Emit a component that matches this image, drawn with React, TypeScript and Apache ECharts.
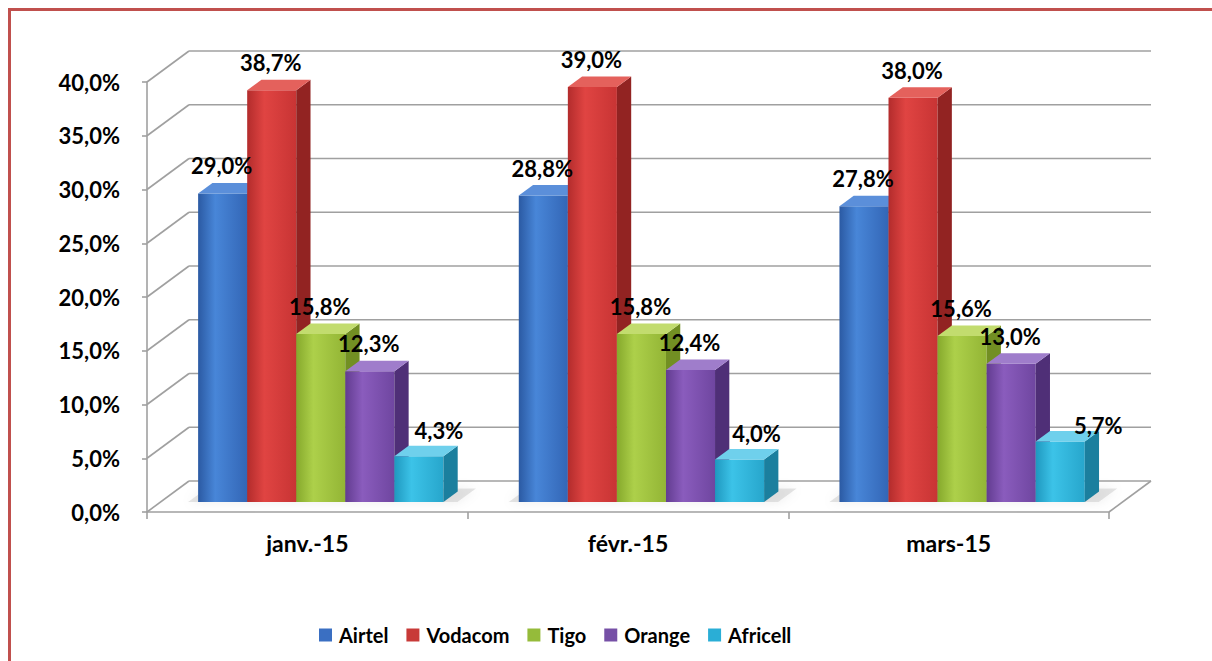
import React, { useEffect, useRef } from 'react';
import * as echarts from 'echarts';

// ---- data ----
const categories = ['janv.-15', 'févr.-15', 'mars-15'];
const seriesNames = ['Airtel', 'Vodacom', 'Tigo', 'Orange', 'Africell'];
const airtel = [29.0, 28.8, 27.8];
const vodacom = [38.7, 39.0, 38.0];
const tigo = [15.8, 15.8, 15.6];
const orange = [12.3, 12.4, 13.0];
const africell = [4.3, 4.0, 5.7];
const seriesValues = [airtel, vodacom, tigo, orange, africell];
const yTicks = [0, 5, 10, 15, 20, 25, 30, 35, 40];

// label nudges for the Africell series (manually placed in the original)
const africellLabelNudgeX = [21, 18, 39];
const africellLabelNudgeY = [2, 2, 12];

// ---- styles ----
const palette = [
  { front: ['#2b5aa3', '#4886d8', '#3366b6'], side: '#24508f', top: '#5b8fda', legend: '#3a6fc2' },
  { front: ['#b32c2c', '#e04442', '#c83434'], side: '#922322', top: '#e4615c', legend: '#c83a38' },
  { front: ['#86a92c', '#add04a', '#93b535'], side: '#728f23', top: '#c2dc6e', legend: '#95bb3a' },
  { front: ['#623c90', '#8a5cbd', '#6f46a0'], side: '#4f2f77', top: '#9f7dcb', legend: '#7650a6' },
  { front: ['#1f98bf', '#3cc3e8', '#27a6cc'], side: '#1b7f9e', top: '#6fd0ec', legend: '#2aaed6' },
];

const FONT = 'Lato, "Open Sans", sans-serif';
const GRID_COLOR = '#a0a0a0';
const FRAME_COLOR = '#c0504d';
const DX = 42; // wall depth (px)
const DY = -31;
const F0 = 0.32; // bar front depth fraction
const F1 = 0.66; // bar back depth fraction
const BAR_FRAC = 0.153; // bar width as fraction of category width
const K = 0.99;

function barSeries(s: number) {
  const pal = palette[s];
  return {
    name: seriesNames[s],
    type: 'custom',
    itemStyle: { color: pal.legend },
    data: categories.map((_, c) => [c, seriesValues[s][c]]),
    renderItem: (params: any, api: any) => {
      const c = api.value(0);
      const v = api.value(1);
      const base = api.coord([c, 0]);
      const top = api.coord([c, v]);
      const catW = api.size([1, 0])[0];
      const bw = catW * BAR_FRAC;
      const x0 = base[0] - 2.5 * bw + s * bw + F0 * DX;
      const x1 = x0 + bw;
      const yb = base[1] + F0 * DY;
      const yt = base[1] + (top[1] - base[1]) * K + F0 * DY;
      const ddx = (F1 - F0) * DX;
      const ddy = (F1 - F0) * DY;
      const nx = s === 4 ? africellLabelNudgeX[c] : 0;
      const ny = s === 4 ? africellLabelNudgeY[c] : 0;
      const children: any[] = [];
      if (s === 0) {
        // soft floor shadow under the group
        const gx0 = x0 - 10;
        const gx1 = x0 + 5 * bw + 14;
        const e = 0.1 * DY;
        const ex = 0.1 * DX;
        children.push({
          type: 'polygon',
          z2: 0,
          shape: {
            points: [
              [gx0, yb],
              [gx1, yb],
              [gx1 + ddx + ex, yb + ddy + e],
              [gx0 + ddx + ex, yb + ddy + e],
            ],
          },
          style: {
            fill: 'rgba(120,120,120,0.2)',
            shadowBlur: 12,
            shadowColor: 'rgba(0,0,0,0.35)',
          },
        });
      }
      children.push(
        {
          type: 'polygon',
          z2: s * 10 + 1,
          shape: { points: [[x0, yb], [x1, yb], [x1, yt], [x0, yt]] },
          style: {
            fill: new echarts.graphic.LinearGradient(0, 0, 1, 0, [
              { offset: 0, color: pal.front[0] },
              { offset: 0.35, color: pal.front[1] },
              { offset: 1, color: pal.front[2] },
            ]),
          },
        },
        {
          type: 'polygon',
          z2: s * 10 + 1,
          shape: { points: [[x1, yb], [x1 + ddx, yb + ddy], [x1 + ddx, yt + ddy], [x1, yt]] },
          style: { fill: pal.side },
        },
        {
          type: 'polygon',
          z2: s * 10 + 1,
          shape: { points: [[x0, yt], [x1, yt], [x1 + ddx, yt + ddy], [x0 + ddx, yt + ddy]] },
          style: { fill: pal.top },
        },
        {
          type: 'text',
          z2: 100,
          style: {
            text: v.toFixed(1).replace('.', ',') + '%',
            x: x0 + bw / 2 - 1 + nx,
            y: yt + ddy - 6 + ny,
            align: 'center',
            verticalAlign: 'bottom',
            fill: '#000',
            fontFamily: FONT,
            fontWeight: 'bold',
            fontSize: 22,
          },
        }
      );
      return { type: 'group', children };
    },
  };
}

const wallSeries = {
  name: 'walls',
  type: 'custom',
  silent: true,
  z: 1,
  data: yTicks.map((t) => [0, t]),
  renderItem: (params: any, api: any) => {
    const t = api.value(1);
    const p = api.coord([0, t]);
    const catW = api.size([1, 0])[0];
    const xl = p[0] - catW / 2;
    const xr = xl + catW * categories.length;
    const y = p[1];
    const children: any[] = [
      {
        type: 'line',
        shape: { x1: xl, y1: y, x2: xl + DX, y2: y + DY },
        style: { stroke: GRID_COLOR, lineWidth: 1.6 },
      },
      {
        type: 'line',
        shape: { x1: xl + DX, y1: y + DY, x2: xr + DX, y2: y + DY },
        style: { stroke: GRID_COLOR, lineWidth: 1.6 },
      },
    ];
    if (t === 0) {
      children.push({
        type: 'line',
        shape: { x1: xr, y1: y, x2: xr + DX, y2: y + DY },
        style: { stroke: GRID_COLOR, lineWidth: 1.6 },
      });
    }
    return { type: 'group', children };
  },
};

export default function App() {
  const ref = useRef<HTMLDivElement>(null);
  useEffect(() => {
    if (!ref.current) return;
    const chart = echarts.init(ref.current, undefined, { renderer: 'svg' });
    chart.setOption({
      animation: false,
      backgroundColor: 'transparent',
      color: palette.map((p) => p.legend),
      textStyle: { fontFamily: FONT },
      grid: { left: 147, right: 103, top: 82, bottom: 149, containLabel: false },
      xAxis: {
        type: 'category',
        data: categories,
        boundaryGap: true,
        axisLine: { show: true, lineStyle: { color: GRID_COLOR, width: 1.6 } },
        axisTick: { show: true, length: 7, interval: 0, lineStyle: { color: GRID_COLOR, width: 1.6 } },
        axisLabel: {
          margin: 19,
          color: '#000',
          fontFamily: FONT,
          fontWeight: 'bold',
          fontSize: 23,
        },
        splitLine: { show: false },
      },
      yAxis: {
        type: 'value',
        min: 0,
        max: 40,
        interval: 5,
        axisLine: { show: true, lineStyle: { color: GRID_COLOR, width: 1.6 } },
        axisTick: { show: true, length: 5, lineStyle: { color: GRID_COLOR, width: 1.6 } },
        axisLabel: {
          margin: 27,
          color: '#000',
          fontFamily: FONT,
          fontWeight: 'bold',
          fontSize: 22,
          formatter: (v: number) => v.toFixed(1).replace('.', ',') + '%',
        },
        splitLine: { show: false },
      },
      legend: {
        data: seriesNames,
        left: 314,
        top: 620,
        icon: 'rect',
        itemWidth: 13,
        itemHeight: 13,
        itemGap: 18,
        textStyle: { color: '#000', fontFamily: FONT, fontWeight: 'bold', fontSize: 20, padding: [0, 0, 0, 2] },
        selectedMode: false,
      },
      series: [wallSeries, ...seriesNames.map((_, s) => barSeries(s))],
    });
    return () => chart.dispose();
  }, []);
  return (
    <div style={{ position: 'fixed', left: 0, top: 0, width: 1212, height: 661, background: '#fff', overflow: 'hidden' }}>
      <div style={{ position: 'absolute', left: 8, top: 8, width: 1204, height: 3, background: FRAME_COLOR }} />
      <div style={{ position: 'absolute', left: 8, top: 8, width: 3, height: 653, background: FRAME_COLOR }} />
      <div ref={ref} style={{ position: 'absolute', left: 0, top: 0, width: 1212, height: 661 }} />
    </div>
  );
}
